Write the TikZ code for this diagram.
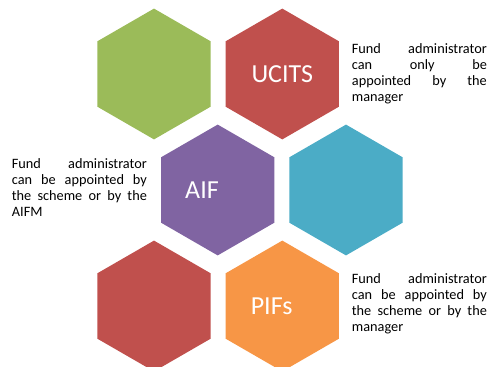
\documentclass[tikz,border=0pt]{standalone}
\usepackage{fontspec}
\setmainfont{Carlito}
\usepackage{tikz}
\usetikzlibrary{positioning,shapes.geometric}

\definecolor{hexgreen}{HTML}{9BBB59}
\definecolor{hexred}{HTML}{C0504D}
\definecolor{hexpurple}{HTML}{8064A2}
\definecolor{hexteal}{HTML}{4BACC6}
\definecolor{hexorange}{HTML}{F79646}

\begin{document}
\begin{tikzpicture}
[x=1pt, y=1pt,
% STYLES
% The hexa style is used to draw the coloured cells
hexa/.style={regular polygon, regular polygon sides=6, shape border rotate=30, draw=none, inner sep=0pt, minimum size=130.8pt, node distance=14.6pt},
% The hexlabel style is used to write the fund type inside a cell
hexlabel/.style={inner sep=0pt, text=white, font=\fontsize{26}{30}\selectfont},
% The comment style is used to describe who appoints the administrator
comment/.style={inner sep=0pt, text width=135pt, align=left, anchor=north west, font=\fontsize{14.3}{16}\selectfont}]

\useasboundingbox (0,0) rectangle (493,367);

% Draw cells
\node [hexa, fill=hexgreen] (green) at (154,293) {};
\node [hexa, fill=hexred, right=of green] (ucits) {};
\node [hexa, fill=hexpurple] (aif) at (217.7,177) {};
\node [hexa, fill=hexteal, right=of aif] (teal) {};
\node [hexa, fill=hexred] (red) at (154,61) {};
\node [hexa, fill=hexorange, right=of red] (pifs) {};

% Fund types
\node [hexlabel] (ucits-label) at (ucits.center) {UCITS};
\node [hexlabel] (aif-label) at ([xshift=-15.7pt]aif.center) {AIF};
\node [hexlabel] (pifs-label) at ([xshift=-10.7pt]pifs.center) {PIFs};

%%%%%%%%%%%%%%%
% Comments

% ucits
\node [comment] (comment-ucits) at (351.7,323.5) {Fund\hfill administrator\\
can\hfill only\hfill be\\
appointed\hfill by\hfill the\\
manager};

% aif
\node [comment] (comment-aif) at (11.7,208.5) {Fund\hfill administrator\\
can\hfill be\hfill appointed\hfill by\\
the\hfill scheme\hfill or\hfill by\hfill the\\
AIFM};

% pifs
\node [comment] (comment-pifs) at (351.7,93.5) {Fund\hfill administrator\\
can\hfill be\hfill appointed\hfill by\\
the\hfill scheme\hfill or\hfill by\hfill the\\
manager};

\end{tikzpicture}
\end{document}
